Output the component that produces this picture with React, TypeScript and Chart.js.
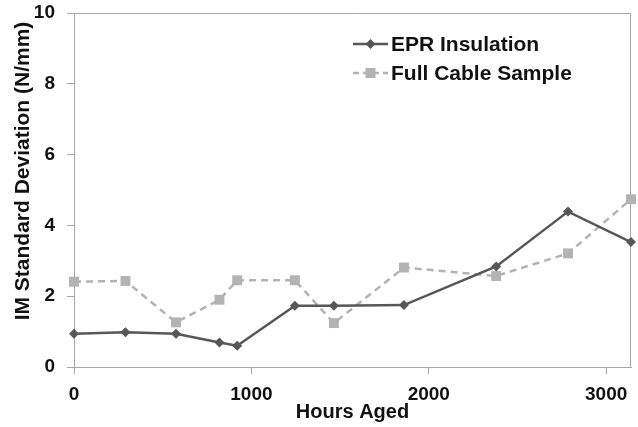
import React, { useEffect, useRef } from "react";
import { Chart, registerables } from "chart.js";

Chart.register(...registerables);

// Hours of ageing at each measurement
const hoursAged = [0, 290, 575, 820, 920, 1245, 1465, 1860, 2380, 2785, 3140];
// IM standard deviation (N/mm)
const eprInsulation = [0.94, 0.98, 0.94, 0.69, 0.6, 1.73, 1.73, 1.75, 2.84, 4.39, 3.53];
const fullCableSample = [2.41, 2.43, 1.26, 1.9, 2.45, 2.45, 1.24, 2.81, 2.57, 3.21, 4.74];

const xTickValues = [0, 1000, 2000, 3000];
const seriesNames = ["EPR Insulation", "Full Cable Sample"];
const xTitle = "Hours Aged";
const yTitle = "IM Standard Deviation (N/mm)";

const FONT = "'Liberation Sans', Arial, sans-serif";
const AXIS_GRAY = "#a8a8a8";
const DARK = "#575757";
const LIGHT = "#b3b3b3";

const decorPlugin = {
  id: "decor",
  beforeDatasetsDraw(chart: any) {
    const { ctx, chartArea } = chart;
    ctx.save();
    ctx.strokeStyle = AXIS_GRAY;
    ctx.lineWidth = 1;
    ctx.beginPath();
    ctx.moveTo(chartArea.left, chartArea.top + 0.5);
    ctx.lineTo(chartArea.right - 0.5, chartArea.top + 0.5);
    ctx.lineTo(chartArea.right - 0.5, chartArea.bottom);
    ctx.stroke();
    ctx.restore();
  },
  afterDraw(chart: any) {
    const { ctx, chartArea } = chart;
    ctx.save();
    ctx.fillStyle = "#111";
    ctx.textAlign = "center";
    ctx.textBaseline = "middle";
    // x-axis title
    ctx.font = `bold 20px ${FONT}`;
    ctx.fillText(xTitle, (chartArea.left + chartArea.right) / 2, 412);
    // y-axis title
    ctx.font = `bold 21px ${FONT}`;
    ctx.save();
    ctx.translate(23, 171);
    ctx.rotate(-Math.PI / 2);
    ctx.fillText(yTitle, 0, 0);
    ctx.restore();

    // legend
    const rows = [
      { name: seriesNames[0], color: DARK, dash: [] as number[], style: "diamond", y: 44 },
      { name: seriesNames[1], color: LIGHT, dash: [6, 4], style: "square", y: 73 },
    ];
    for (const r of rows) {
      ctx.strokeStyle = r.color;
      ctx.fillStyle = r.color;
      ctx.lineWidth = 2.5;
      ctx.setLineDash(r.dash);
      ctx.beginPath();
      ctx.moveTo(353, r.y);
      ctx.lineTo(388, r.y);
      ctx.stroke();
      ctx.setLineDash([]);
      ctx.beginPath();
      if (r.style === "diamond") {
        ctx.moveTo(370.5 - 5, r.y);
        ctx.lineTo(370.5, r.y - 5);
        ctx.lineTo(370.5 + 5, r.y);
        ctx.lineTo(370.5, r.y + 5);
        ctx.closePath();
      } else {
        ctx.rect(370.5 - 5, r.y - 5, 10, 10);
      }
      ctx.fill();
      ctx.fillStyle = "#111";
      ctx.textAlign = "left";
      ctx.fillText(r.name, 391, r.y + 1);
    }
    ctx.restore();
  },
};

export default function App() {
  const canvasRef = useRef<HTMLCanvasElement | null>(null);

  useEffect(() => {
    if (!canvasRef.current) return;
    const chart = new Chart(canvasRef.current, {
      type: "line",
      data: {
        datasets: [
          {
            label: seriesNames[0],
            data: hoursAged.map((x, i) => ({ x, y: eprInsulation[i] })),
            borderColor: DARK,
            backgroundColor: DARK,
            borderWidth: 2.5,
            pointStyle: "rectRot",
            pointRadius: 5,
            pointBorderWidth: 0,
            tension: 0,
            clip: 10,
          },
          {
            label: seriesNames[1],
            data: hoursAged.map((x, i) => ({ x, y: fullCableSample[i] })),
            borderColor: LIGHT,
            backgroundColor: LIGHT,
            borderWidth: 2.5,
            borderDash: [7, 5],
            pointStyle: "rect",
            pointRadius: 7,
            pointBorderWidth: 0,
            tension: 0,
            clip: 10,
          },
        ],
      },
      options: {
        animation: false,
        responsive: false,
        maintainAspectRatio: false,
        layout: { padding: { top: 13, right: 4, left: 0, bottom: 0 } },
        plugins: { legend: { display: false }, tooltip: { enabled: false } },
        scales: {
          x: {
            type: "linear",
            min: 0,
            max: 3140,
            afterFit(scale: any) {
              scale.height = 60;
              scale.paddingLeft = 0;
              scale.paddingRight = 0;
            },
            afterBuildTicks(scale: any) {
              scale.ticks = xTickValues.map((v) => ({ value: v }));
            },
            grid: { drawOnChartArea: false, drawTicks: true, tickLength: 7, color: AXIS_GRAY },
            border: { color: AXIS_GRAY, width: 1 },
            ticks: {
              color: "#111",
              font: { family: FONT, size: 19, weight: "bold" },
              padding: 9,
              maxRotation: 0,
              autoSkip: false,
              callback: (v: any) => String(v),
            },
          },
          y: {
            min: 0,
            max: 10,
            afterFit(scale: any) {
              scale.width = 74;
              scale.paddingTop = 0;
              scale.paddingBottom = 0;
            },
            grid: { drawOnChartArea: false, drawTicks: true, tickLength: 7, color: AXIS_GRAY },
            border: { color: AXIS_GRAY, width: 1 },
            ticks: {
              stepSize: 2,
              color: "#111",
              font: { family: FONT, size: 19, weight: "bold" },
              padding: 12,
              callback: (v: any) => String(v),
            },
          },
        },
      },
      plugins: [decorPlugin],
    });
    return () => chart.destroy();
  }, []);

  return (
    <div style={{ position: "fixed", left: 0, top: 0, width: 638, height: 427, background: "#fff" }}>
      <canvas ref={canvasRef} width={638} height={427} style={{ width: 638, height: 427 }} />
    </div>
  );
}
